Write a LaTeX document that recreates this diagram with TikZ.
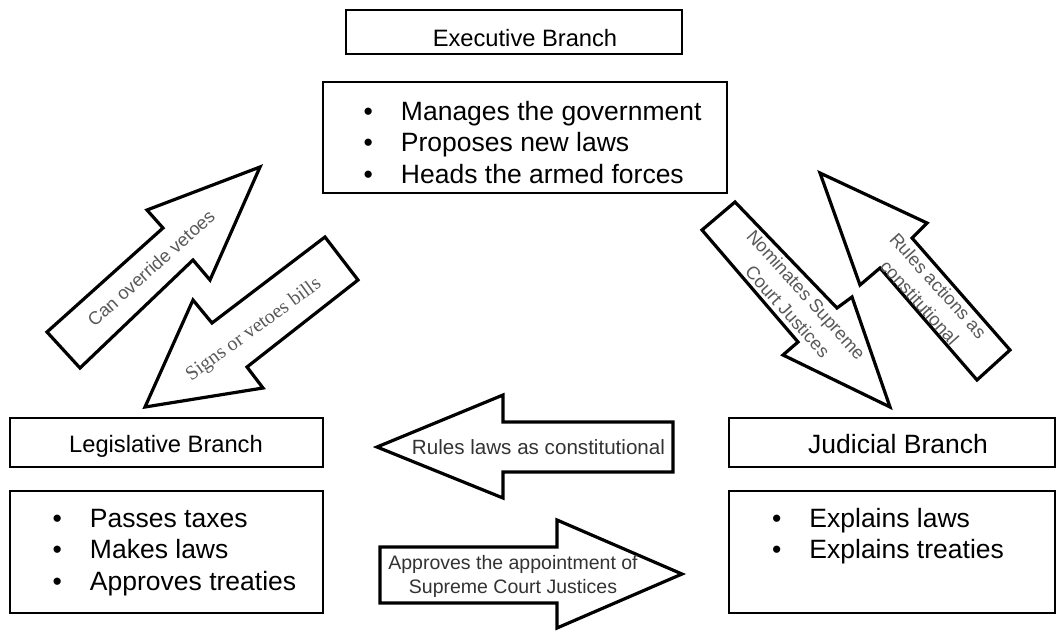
\documentclass[tikz,border=0pt]{standalone}
\usepackage{fontspec}
\setmainfont{Liberation Sans}
\newfontfamily\timesfont{Liberation Serif}
\usepackage{tikz}

\begin{document}
\begin{tikzpicture}[x=1pt, y=-1pt,
    box/.style={draw, line width=1.5pt, inner sep=0pt},
    bigarrow/.style={draw, line width=3.2pt, line join=miter, fill=white},
    titletext/.style={inner sep=0pt, anchor=base, font=\fontsize{23.7}{28}\selectfont},
    listtext/.style={inner sep=0pt, anchor=base west, font=\fontsize{26.5}{31.5}\selectfont},
    midtext/.style={inner sep=0pt, anchor=base, align=center, text=black!80},
    slanttext/.style={inner sep=0pt, align=center, text=black!65, font=\fontsize{18.3}{25}\selectfont}]
                \useasboundingbox (0,0) rectangle (1058,630);

                \node[box, minimum width=336, minimum height=44] (exec) at (514,32) {};
                \node[box, minimum width=404, minimum height=111] (execlist) at (525,137.5) {};
                \node[box, minimum width=313, minimum height=49] (leg) at (166.5,442.5) {};
                \node[box, minimum width=313, minimum height=122] (leglist) at (166.5,552) {};
                \node[box, minimum width=326, minimum height=49] (jud) at (892,442.5) {};
                \node[box, minimum width=326, minimum height=122] (judlist) at (892,552) {};

                \node[titletext] (exectitle) at (525,46.5) {Executive Branch};
                \node[titletext] (legtitle) at (166,452.5) {Legislative Branch};
                \node[titletext, font=\fontsize{26.5}{30}\selectfont] (judtitle) at (898,453.5) {Judicial Branch};

                \node[listtext] (execitems) at (363.5,120) {\begin{tabular}[t]{@{}l@{\hspace{28pt}}l@{}}
                    • & Manages the government\\
                    • & Proposes new laws\\
                    • & Heads the armed forces
                \end{tabular}};
                \node[listtext] (legitems) at (52.5,527) {\begin{tabular}[t]{@{}l@{\hspace{28pt}}l@{}}
                    • & Passes taxes\\
                    • & Makes laws\\
                    • & Approves treaties
                \end{tabular}};
                \node[listtext] (juditems) at (772,527) {\begin{tabular}[t]{@{}l@{\hspace{28pt}}l@{}}
                    • & Explains laws\\
                    • & Explains treaties
                \end{tabular}};

                \draw[bigarrow] (47,332) -- (163,228) -- (147,210) -- (260,167) -- (210,280) -- (193,260) -- (80,368) -- cycle;
                \draw[bigarrow] (325,237) -- (212,323) -- (193,300) -- (145,407) -- (263,388) -- (247,367) -- (358,280) -- cycle;
                \draw[bigarrow] (735,202) -- (837,308) -- (852,297) -- (890,407) -- (783,355) -- (798,342) -- (702,230) -- cycle;
                \draw[bigarrow] (820,173) -- (927,223) -- (912,238) -- (1010,350) -- (977,380) -- (880,268) -- (860,285) -- cycle;
                \draw[bigarrow] (377,447) -- (503,395) -- (503,422) -- (673,422) -- (673,472) -- (503,472) -- (503,498) -- cycle;
                \draw[bigarrow] (380,547) -- (557,547) -- (557,520) -- (682,574) -- (557,628) -- (557,603) -- (380,603) -- cycle;

                \node[slanttext, rotate=42] (override) at (151,268) {Can override vetoes};
                \node[slanttext, rotate=36, font=\timesfont\fontsize{20}{25}\selectfont] (signs) at (254,330) {Signs or vetoes bills};
                \node[slanttext, rotate=-48] (nominates) at (797,303) {Nominates Supreme\\Court Justices};
                \node[slanttext, rotate=-48] (rulesactions) at (929,294) {Rules actions as\\constitutional};
                \node[midtext, font=\fontsize{20.6}{24}\selectfont] (ruleslaws) at (538.5,454) {Rules laws as constitutional};
                \node[midtext, font=\fontsize{19.5}{24}\selectfont] (approves) at (513,593) {Approves the appointment of\\Supreme Court Justices};
            \end{tikzpicture}
\end{document}
